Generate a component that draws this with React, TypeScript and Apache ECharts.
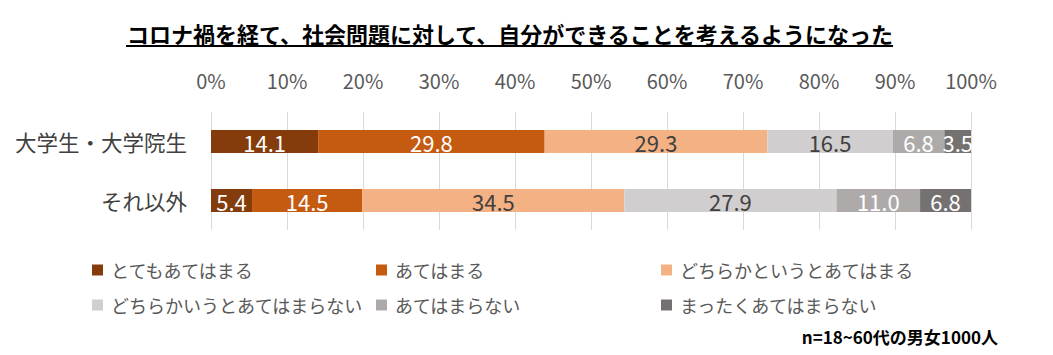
import React, { useEffect, useRef } from "react";
import * as echarts from "echarts";

const categories = ["大学生・大学院生", "それ以外"];
const seriesNames = [
  "とてもあてはまる",
  "あてはまる",
  "どちらかというとあてはまる",
  "どちらかいうとあてはまらない",
  "あてはまらない",
  "まったくあてはまらない",
];
const seriesValues = [
  [14.1, 5.4],
  [29.8, 14.5],
  [29.3, 34.5],
  [16.5, 27.9],
  [6.8, 11.0],
  [3.5, 6.8],
];
const colors = ["#843C0C", "#C55A11", "#F4B183", "#D0CECE", "#AEAAAA", "#767171"];
const labelColors = ["#FFFFFF", "#FFFFFF", "#404040", "#404040", "#FFFFFF", "#FFFFFF"];
const legendPos = [
  [92, 261],
  [376, 261],
  [661, 261],
  [92, 296],
  [376, 296],
  [661, 296],
];
const titleText = "コロナ禍を経て、社会問題に対して、自分ができることを考えるようになった";
const noteText = "n=18~60代の男女1000人";
const FONT = "'Noto Sans CJK JP', 'Noto Sans', sans-serif";

export default function App() {
  const ref = useRef<HTMLDivElement>(null);
  useEffect(() => {
    if (!ref.current) return;
    const chart = echarts.init(ref.current, null, { renderer: "svg" });
    chart.setOption({
      animation: false,
      backgroundColor: "#FFFFFF",
      textStyle: { fontFamily: FONT },
      grid: { left: 211, right: 82, top: 112, bottom: 125 },
      xAxis: {
        type: "value",
        position: "top",
        min: 0,
        max: 100,
        interval: 10,
        axisLine: { show: false },
        axisTick: { show: false },
        axisLabel: {
          formatter: "{value}%",
          fontSize: 20,
          color: "#595959",
          fontFamily: FONT,
          margin: 22,
        },
        splitLine: { lineStyle: { color: "#D9D9D9", width: 1 } },
      },
      yAxis: {
        type: "category",
        data: categories,
        inverse: true,
        axisLine: { show: false },
        axisTick: { show: false },
        axisLabel: { fontSize: 21.5, color: "#404040", fontFamily: FONT, margin: 24 },
      },
      legend: seriesNames.map((n, i) => ({
        data: [n],
        left: legendPos[i][0],
        top: legendPos[i][1],
        padding: 0,
        icon: "rect",
        itemWidth: 11,
        itemHeight: 11,
        textStyle: {
          fontSize: 18,
          color: "#595959",
          fontFamily: FONT,
          lineHeight: 18,
          padding: [0, 0, 0, 3],
        },
      })),
      series: seriesNames.map((n, i) => ({
        name: n,
        type: "bar",
        stack: "total",
        data: seriesValues[i],
        barWidth: 23,
        itemStyle: { color: colors[i] },
        label: {
          show: true,
          position: "inside",
          color: labelColors[i],
          fontSize: 22,
          fontFamily: FONT,
          formatter: (p: any) => Number(p.value).toFixed(1),
        },
      })),
      graphic: [
        {
          type: "text",
          x: 510,
          y: 33,
          style: {
            text: titleText,
            fontSize: 22,
            fontWeight: "bold",
            fontFamily: FONT,
            fill: "#000000",
            align: "center",
            verticalAlign: "middle",
          },
        },
        {
          type: "line",
          shape: { x1: 126, y1: 46, x2: 893, y2: 46 },
          style: { stroke: "#000000", lineWidth: 2 },
        },
        {
          type: "text",
          x: 998,
          y: 336,
          style: {
            text: noteText,
            fontSize: 17,
            fontWeight: "bold",
            fontFamily: FONT,
            fill: "#000000",
            align: "right",
            verticalAlign: "middle",
          },
        },
      ],
    });
    return () => chart.dispose();
  }, []);
  return (
    <div
      ref={ref}
      style={{ position: "fixed", left: 0, top: 0, width: 1053, height: 355 }}
    />
  );
}
